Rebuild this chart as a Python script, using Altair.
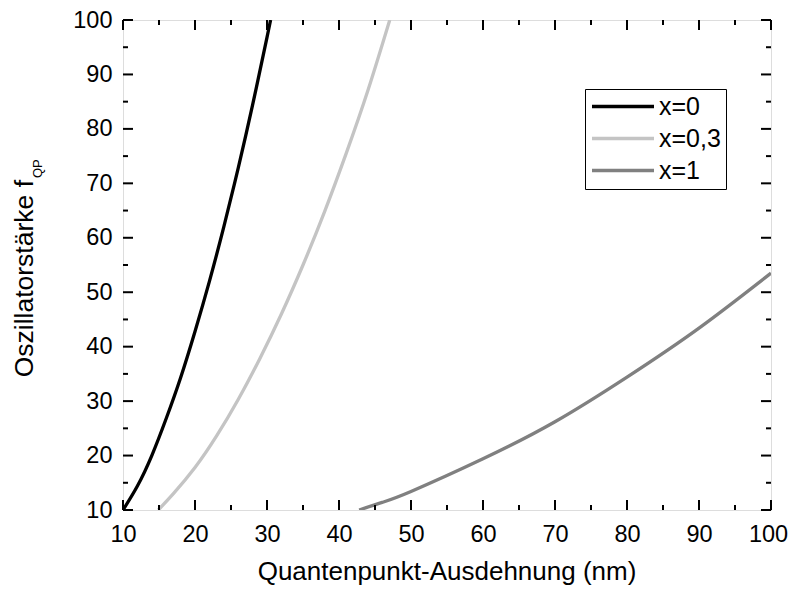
import altair as alt
import pandas as pd

# ---- data ----
series_names = ["x=0", "x=0,3", "x=1"]
series_colors = ["#000000", "#c4c4c4", "#808080"]

black_L = [10, 12, 14, 16, 18, 20, 22, 24, 26, 28, 30, 30.5]
black_f = [10, 14.4, 20.0, 26.8, 34.3, 42.8, 52.0, 62.0, 72.8, 84.4, 96.8, 100]

gray_L = [14.9, 17, 20, 23, 26, 29, 32, 35, 38, 41, 44, 47.05]
gray_f = [10, 13.0, 17.8, 23.6, 30.3, 37.8, 46.0, 55.0, 64.8, 75.5, 87.0, 100]

dark_L = [42.8, 46, 50, 60, 70, 80, 90, 100]
dark_f = [10, 11.4, 13.4, 19.4, 26.2, 34.4, 43.4, 53.5]

major_ticks = [10, 20, 30, 40, 50, 60, 70, 80, 90, 100]
minor_ticks = [15, 25, 35, 45, 55, 65, 75, 85, 95]

x_title = "Quantenpunkt-Ausdehnung (nm)"
y_title_main = "Oszillatorstärke f"
y_title_sub = "QP"

FONT = "Liberation Sans"
W, H = 648, 490

rows = []
for name, Ls, fs in zip(series_names, [black_L, gray_L, dark_L], [black_f, gray_f, dark_f]):
    for L, f in zip(Ls, fs):
        rows.append({"L": L, "f": f, "serie": name})
df = pd.DataFrame(rows)

xs = alt.Scale(domain=[10, 100], nice=False, zero=False)
ys = alt.Scale(domain=[10, 100], nice=False, zero=False)

x_axis = alt.Axis(values=major_ticks, title=None, ticks=False, tickSize=0, domain=False, grid=False,
                  labelFontSize=23.5, labelFont=FONT, labelColor="black", labelPadding=12,
                  labelFlush=False, labelOverlap=False, format="d",
                  labelOffset={"condition": {"test": "datum.value == 100", "value": -3}, "value": 0})
y_axis = alt.Axis(values=major_ticks, title=None, ticks=False, tickSize=0, domain=False, grid=False,
                  labelFontSize=23.5, labelFont=FONT, labelColor="black", labelPadding=11,
                  labelFlush=False, labelOverlap=False, format="d")

lines = alt.Chart(df).mark_line(strokeWidth=3.3, clip=True, interpolate="natural").encode(
    x=alt.X("L:Q", scale=xs, axis=x_axis),
    y=alt.Y("f:Q", scale=ys, axis=y_axis),
    color=alt.Color("serie:N", scale=alt.Scale(domain=series_names, range=series_colors),
                    legend=alt.Legend(title=None, orient="none", legendX=462, legendY=69,
                                      symbolType="stroke", symbolSize=3844, symbolStrokeWidth=3.5,
                                      labelFontSize=25, labelFont=FONT, labelColor="black",
                                      strokeColor="black", fillColor="white", padding=5,
                                      clipHeight=25, rowPadding=6, labelOffset=3, cornerRadius=0)),
)

maj = pd.DataFrame({"v": major_ticks})
mnr = pd.DataFrame({"v": minor_ticks})


def xticks(data, length):
    b = alt.Chart(data).mark_rule(color="black", strokeWidth=2).encode(
        x=alt.X("v:Q", scale=xs, axis=x_axis), y=alt.value(H), y2=alt.value(H - length))
    t = alt.Chart(data).mark_rule(color="black", strokeWidth=2).encode(
        x=alt.X("v:Q", scale=xs, axis=x_axis), y=alt.value(0), y2=alt.value(length))
    return [b, t]


def yticks(data, length):
    l = alt.Chart(data).mark_rule(color="black", strokeWidth=2).encode(
        y=alt.Y("v:Q", scale=ys, axis=y_axis), x=alt.value(0), x2=alt.value(length))
    r = alt.Chart(data).mark_rule(color="black", strokeWidth=2).encode(
        y=alt.Y("v:Q", scale=ys, axis=y_axis), x=alt.value(W), x2=alt.value(W - length))
    return [l, r]


tick_layers = xticks(maj, 10) + xticks(mnr, 5) + yticks(maj, 10) + yticks(mnr, 5)

xt = alt.Chart(pd.DataFrame({"t": [x_title]})).mark_text(
    font=FONT, fontSize=26, color="black", align="center", baseline="alphabetic").encode(
    x=alt.value(W / 2), y=alt.value(H + 70), text="t:N")
yt = alt.Chart(pd.DataFrame({"t": [y_title_main]})).mark_text(
    font=FONT, fontSize=26.5, color="black", align="right", baseline="alphabetic", angle=270).encode(
    x=alt.value(-90), y=alt.value(160), text="t:N")
ys_t = alt.Chart(pd.DataFrame({"t": [y_title_sub]})).mark_text(
    font=FONT, fontSize=13, color="black", align="left", baseline="alphabetic", angle=270).encode(
    x=alt.value(-81), y=alt.value(158), text="t:N")

chart = alt.layer(lines, *tick_layers, xt, yt, ys_t).properties(
    width=W, height=H,
    padding={"left": 115, "top": 12, "right": 17, "bottom": 77},
    autosize=alt.AutoSizeParams(type="none"),
).configure_view(stroke="black", strokeWidth=2).configure(background="white")

chart.save("out.html", embed_options={"renderer": "svg", "actions": False})
